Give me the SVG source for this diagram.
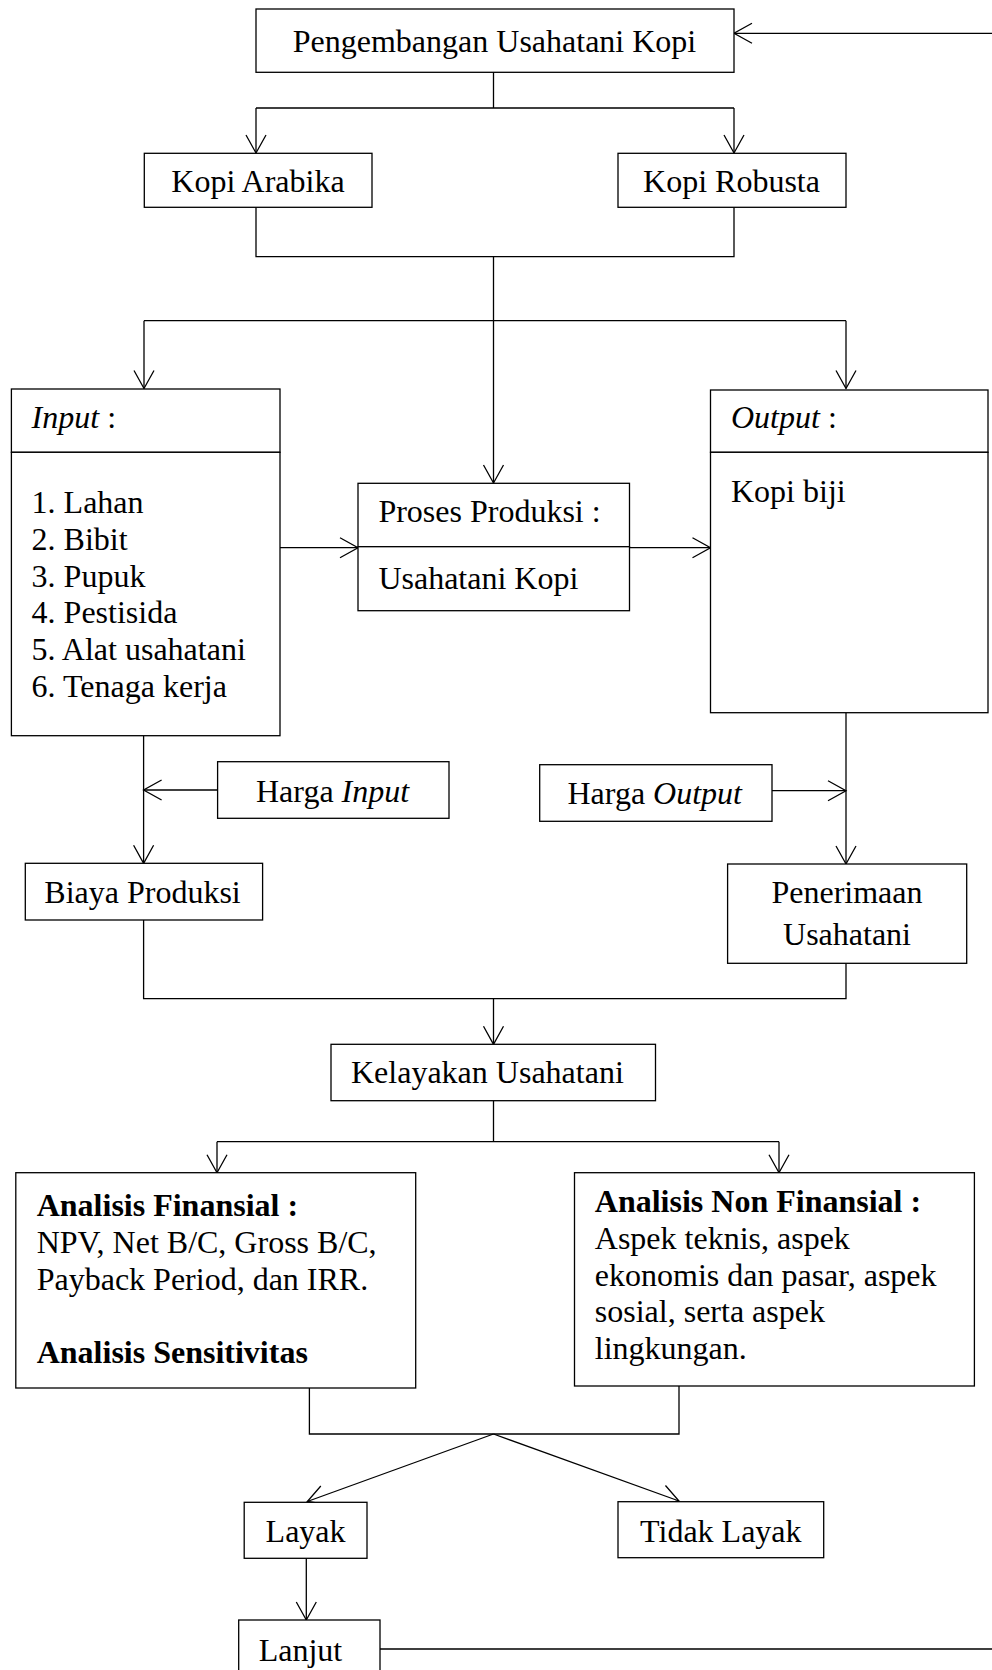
<svg xmlns="http://www.w3.org/2000/svg" width="992" height="1670" viewBox="0 0 992 1670">
<style>
.box{fill:#fff;stroke:#000;stroke-width:1.3}
.ln{fill:none;stroke:#000;stroke-width:1.3}
.ar{fill:none;stroke:#000;stroke-width:1.3;marker-end:url(#arr)}
text{font-family:"Liberation Serif","Times New Roman",serif;font-size:32px;fill:#000}
.c{text-anchor:middle}
.i{font-style:italic}
.b{font-weight:bold}
</style>
<defs>
<marker id="arr" markerUnits="userSpaceOnUse" markerWidth="24" markerHeight="24" viewBox="-20 -12 22 24" refX="0" refY="0" orient="auto" overflow="visible">
<path d="M-18,-10 L0,0 L-18,10" fill="none" stroke="#000" stroke-width="1.3"/>
</marker>
</defs>
<rect width="992" height="1670" fill="#fff"/>
<g id="connectors">
<path class="ln" d="M493.5,72 V108 M256,108 H734"/>
<path class="ar" d="M256,108 V153"/>
<path class="ar" d="M734,108 V153"/>
<path class="ln" d="M256,207 V256.7 H734 V207"/>
<path class="ar" d="M493.5,256.7 V483"/>
<path class="ln" d="M144,320.7 H846"/>
<path class="ar" d="M144,320.7 V388.5"/>
<path class="ar" d="M846,320.7 V388.5"/>
<path class="ar" d="M280,547.7 H358"/>
<path class="ar" d="M629.5,547.7 H710.5"/>
<path class="ar" d="M143.6,735.7 V863.3"/>
<path class="ar" d="M217.6,790 H143.6"/>
<path class="ar" d="M846,712.7 V864"/>
<path class="ar" d="M772,790.7 H846"/>
<path class="ln" d="M143.6,920 V998.7 H846 V963.3"/>
<path class="ar" d="M493.5,998.7 V1044.3"/>
<path class="ln" d="M493.5,1100.7 V1141.7 M217,1141.7 H779"/>
<path class="ar" d="M217,1141.7 V1172.7"/>
<path class="ar" d="M779,1141.7 V1172.7"/>
<path class="ln" d="M309.4,1388 V1434 H679 V1386"/>
<path class="ar" d="M493.5,1434 L307.3,1501.5"/>
<path class="ar" d="M493.5,1434 L679,1501"/>
<path class="ar" d="M306.3,1558.3 V1620"/>
<path class="ar" d="M380,1649 H1000 V33.3 H734"/>
</g>
<g id="pengembangan">
<rect class="box" x="256" y="9" width="478" height="63.3"/>
<text class="c" x="494.5" y="52">Pengembangan Usahatani Kopi</text>
</g>
<g id="arabika">
<rect class="box" x="144.3" y="153.3" width="227.7" height="54"/>
<text class="c" x="258" y="192">Kopi Arabika</text>
</g>
<g id="robusta">
<rect class="box" x="618" y="153.3" width="228" height="54"/>
<text class="c" x="731.5" y="192">Kopi Robusta</text>
</g>
<g id="input">
<rect class="box" x="11.4" y="389" width="268.6" height="63.3"/>
<rect class="box" x="11.4" y="452.3" width="268.6" height="283.4"/>
<text x="31.6" y="428"><tspan class="i">Input</tspan> :</text>
<text x="31.6" y="513">1. Lahan</text>
<text x="31.6" y="549.8">2. Bibit</text>
<text x="31.6" y="586.6">3. Pupuk</text>
<text x="31.6" y="623.4">4. Pestisida</text>
<text x="31.6" y="660.2">5. Alat usahatani</text>
<text x="31.6" y="697">6. Tenaga kerja</text>
</g>
<g id="proses">
<rect class="box" x="358" y="483.3" width="271.5" height="63.4"/>
<rect class="box" x="358" y="546.7" width="271.5" height="64"/>
<text x="378.4" y="521.7">Proses Produksi :</text>
<text x="378.4" y="589">Usahatani Kopi</text>
</g>
<g id="output">
<rect class="box" x="710.5" y="390" width="277.5" height="62.3"/>
<rect class="box" x="710.5" y="452.3" width="277.5" height="260.4"/>
<text x="731" y="428"><tspan class="i">Output</tspan> :</text>
<text x="731" y="501.7">Kopi biji</text>
</g>
<g id="harga-input">
<rect class="box" x="217.6" y="761.7" width="231.4" height="56.6"/>
<text x="256" y="801.7">Harga <tspan class="i">Input</tspan></text>
</g>
<g id="harga-output">
<rect class="box" x="539.7" y="764.7" width="232.3" height="56.6"/>
<text x="567.5" y="804.3">Harga <tspan class="i">Output</tspan></text>
</g>
<g id="biaya">
<rect class="box" x="25.3" y="863.3" width="237.3" height="56.7"/>
<text x="44.3" y="902.7">Biaya Produksi</text>
</g>
<g id="penerimaan">
<rect class="box" x="727.6" y="864" width="239.1" height="99.3"/>
<text class="c" x="847" y="902.7">Penerimaan</text>
<text class="c" x="847" y="945">Usahatani</text>
</g>
<g id="kelayakan">
<rect class="box" x="331" y="1044.3" width="324.5" height="56.4"/>
<text x="351" y="1083.3">Kelayakan Usahatani</text>
</g>
<g id="finansial">
<rect class="box" x="15.8" y="1172.7" width="399.9" height="215.3"/>
<text x="36.7" y="1216" class="b">Analisis Finansial :</text>
<text x="36.7" y="1252.8">NPV, Net B/C, Gross B/C,</text>
<text x="36.7" y="1289.6">Payback Period, dan IRR.</text>
<text x="36.7" y="1363.2" class="b">Analisis Sensitivitas</text>
</g>
<g id="non-finansial">
<rect class="box" x="574.5" y="1172.7" width="399.9" height="213.3"/>
<text x="594.8" y="1212" class="b">Analisis Non Finansial :</text>
<text x="594.8" y="1248.8">Aspek teknis, aspek</text>
<text x="594.8" y="1285.6">ekonomis dan pasar, aspek</text>
<text x="594.8" y="1322.4">sosial, serta aspek</text>
<text x="594.8" y="1359.2">lingkungan.</text>
</g>
<g id="layak">
<rect class="box" x="244.2" y="1502.3" width="122.8" height="56"/>
<text class="c" x="305.6" y="1542">Layak</text>
</g>
<g id="tidak-layak">
<rect class="box" x="618" y="1501.7" width="205.7" height="56"/>
<text class="c" x="720.8" y="1542">Tidak Layak</text>
</g>
<g id="lanjut">
<rect class="box" x="238.7" y="1620" width="141.3" height="60"/>
<text x="258.7" y="1660.5">Lanjut</text>
</g>
</svg>
